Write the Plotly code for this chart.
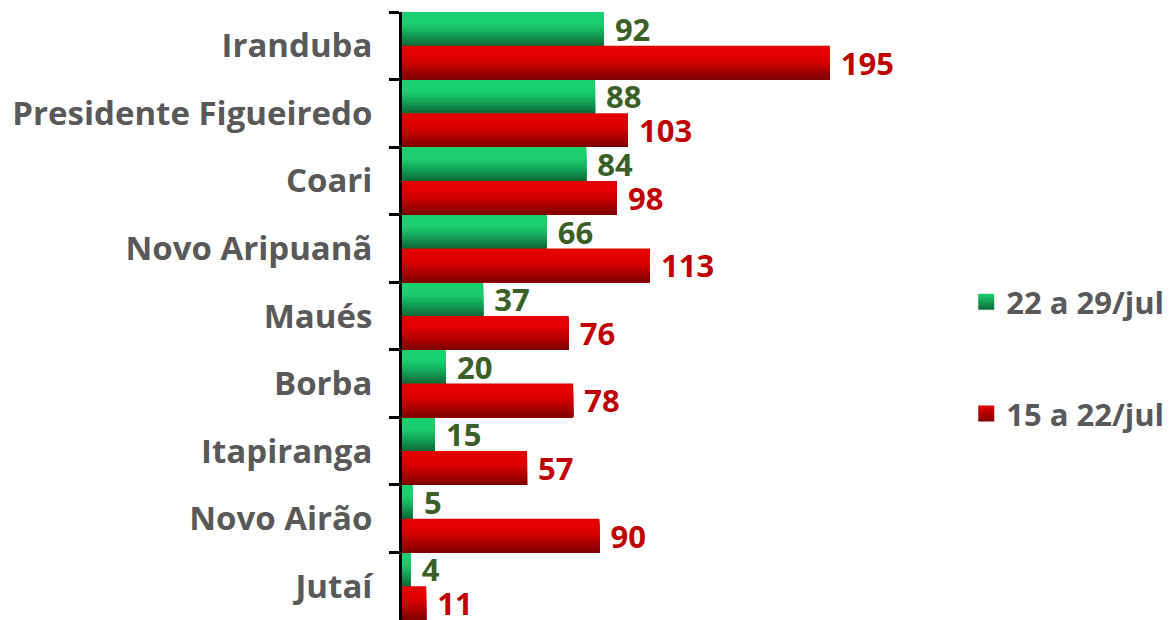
import plotly.graph_objects as go

categories = ["Iranduba", "Presidente Figueiredo", "Coari", "Novo Aripuanã", "Maués",
              "Borba", "Itapiranga", "Novo Airão", "Jutaí"]
recent_week = [92, 88, 84, 66, 37, 20, 15, 5, 4]       # 22 a 29/jul
previous_week = [195, 103, 98, 113, 76, 78, 57, 90, 11]  # 15 a 22/jul
series_names = ["22 a 29/jul", "15 a 22/jul"]

FONT = "Open Sans"
GRAY = "#595959"

def lerp(c1, c2, t):
    return "rgb(%d,%d,%d)" % tuple(round(a + (b - a) * t) for a, b in zip(c1, c2))

series = [
    dict(name=series_names[0], values=recent_week, base=-0.5, top=(26, 208, 110), bottom=(12, 108, 58),
         textcolor="#3a5f27", legend="legend"),
    dict(name=series_names[1], values=previous_week, base=0.0, top=(226, 0, 0), bottom=(128, 0, 0),
         textcolor="#c00000", legend="legend2"),
]

fig = go.Figure()
N = 16
W = 0.5
for s in series:
    # cumulative slices: each one starts lower and runs to the bar's bottom edge
    for k in range(N):
        t = k / (N - 1)
        tt = max(0.0, (t - 0.3) / 0.7) ** 1.2
        fig.add_trace(go.Bar(
            y=categories, x=s["values"], orientation="h",
            offset=s["base"] + k * W / N, width=W - k * W / N,
            marker=dict(color=lerp(s["top"], s["bottom"], tt), line=dict(width=0)),
            showlegend=False, hoverinfo="skip",
        ))
    # label carrier
    fig.add_trace(go.Bar(
        y=categories, x=s["values"], orientation="h",
        offset=s["base"], width=W,
        marker=dict(color="rgba(0,0,0,0)", line=dict(width=0)),
        text=s["values"], texttemplate="\u00a0%{x}", textposition="outside",
        textfont=dict(family=FONT, size=31, color=s["textcolor"], weight="bold"),
        constraintext="none", cliponaxis=False,
        name=s["name"], showlegend=False,
    ))
    fig.add_trace(go.Scatter(
        x=[None], y=[None], mode="markers", name=s["name"], legend=s["legend"],
        marker=dict(symbol="square", size=22, color=lerp(s["top"], s["top"], 0),
                    gradient=dict(type="vertical", color=lerp(s["bottom"], s["bottom"], 0)),
                    line=dict(width=0)),
    ))

legend_font = dict(family=FONT, size=31, color=GRAY, weight="bold")
fig.update_layout(
    width=1173, height=620,
    margin=dict(l=402, r=273, t=12, b=0, autoexpand=False),
    paper_bgcolor="white", plot_bgcolor="white",
    barmode="overlay",
    xaxis=dict(range=[0, 227], visible=False, fixedrange=True),
    yaxis=dict(type="category", autorange="reversed", showline=True, linecolor="black", linewidth=3,
               ticks="outside", ticklen=10, tickwidth=3, tickcolor="black", tickson="boundaries",
               showgrid=False, zeroline=False, ticklabelstandoff=20, fixedrange=True,
               tickfont=dict(family=FONT, size=33, color=GRAY, weight="bold")),
    legend=dict(x=1.133, y=0.523, xanchor="left", yanchor="middle", itemsizing="trace",
                font=legend_font, bgcolor="rgba(0,0,0,0)"),
    legend2=dict(x=1.133, y=0.339, xanchor="left", yanchor="middle", itemsizing="trace",
                 font=legend_font, bgcolor="rgba(0,0,0,0)"),
    showlegend=True,
)

fig.write_html("out.html", config={"displayModeBar": False},
               post_script="document.body.style.margin='0';document.body.style.overflow='hidden';")
